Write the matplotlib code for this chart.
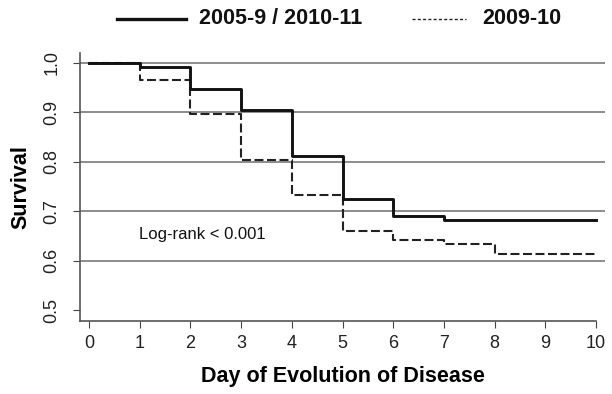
import numpy as np
import matplotlib
matplotlib.use('Agg')
import matplotlib.pyplot as plt
from matplotlib.lines import Line2D

plt.rcParams['font.family'] = ['Liberation Sans', 'DejaVu Sans']

# Data (Kaplan-Meier style step curves)
days = [0, 1, 2, 3, 4, 5, 6, 7, 8, 9, 10]
surv_main = [1.0, 0.991, 0.947, 0.905, 0.811, 0.725, 0.691, 0.683, 0.683, 0.683, 0.683]
surv_0910 = [1.0, 0.966, 0.896, 0.804, 0.733, 0.661, 0.642, 0.633, 0.613, 0.613, 0.613]
label_main = '2005-9 / 2010-11'
label_0910 = '2009-10'
y_ticks = [0.5, 0.6, 0.7, 0.8, 0.9, 1.0]

fig = plt.figure(figsize=(6.12, 3.94), dpi=100)
ax = fig.add_axes([0.1307, 0.1853, 0.858, 0.680])

for y in y_ticks[1:]:
    ax.axhline(y, color='#8c8c8c', lw=1.4, zorder=1)

ax.step(days, surv_main, where='post', color='#111111', lw=2.1, zorder=3)
ax.step(days, surv_0910, where='post', color='#222222', lw=1.5,
        ls=(0, (4.3, 1.7)), zorder=2)

ax.text(0.99, 0.653, 'Log-rank < 0.001', fontsize=12, color='#111111',
        va='center')

ax.set_xlim(-0.18, 10.18)
ax.set_ylim(0.478, 1.02)
ax.set_xticks(days)
ax.set_yticks(y_ticks)
ax.set_yticklabels(['%.1f' % v for v in y_ticks], rotation=90, va='center')
ax.tick_params(labelsize=13, length=5, color='#444444', labelcolor='#222222')
ax.tick_params(axis='y', pad=9)
ax.tick_params(axis='x', pad=5)

for s in ['top', 'right']:
    ax.spines[s].set_visible(False)
for s in ['left', 'bottom']:
    ax.spines[s].set_color('#555555')
    ax.spines[s].set_linewidth(1.2)
ax.spines['bottom'].set_bounds(-0.18, 10)

ax.set_xlabel('Day of Evolution of Disease', fontsize=15.5, fontweight='bold',
              labelpad=10)
ax.set_ylabel('Survival', fontsize=15.5, fontweight='bold', labelpad=9)

# legend across the top
ly = 1 - 19 / 394
fig.add_artist(Line2D([117 / 612, 186 / 612], [ly, ly], color='#111111',
                      lw=2.4, transform=fig.transFigure))
fig.text(199 / 612, 1 - 18 / 394, label_main, fontsize=15.5, fontweight='bold',
         va='center', ha='left', color='#111111')
fig.add_artist(Line2D([412 / 612, 466 / 612], [ly, ly], color='#222222',
                      lw=1.0, dashes=(2.2, 1.6), transform=fig.transFigure))
fig.text(482 / 612, 1 - 18 / 394, label_0910, fontsize=15.5, fontweight='bold',
         va='center', ha='left', color='#111111')

plt.savefig('out.png', dpi=100)
